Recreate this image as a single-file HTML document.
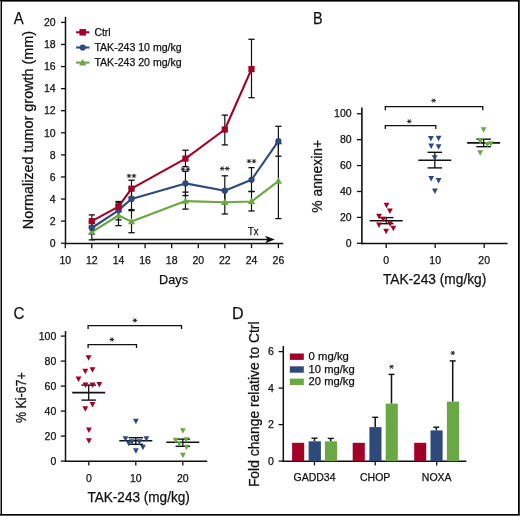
<!DOCTYPE html>
<html><head><meta charset="utf-8"><style>
html,body{margin:0;padding:0;background:#fff;}
body{width:520px;height:516px;overflow:hidden;}
svg{display:block;font-family:"Liberation Sans", sans-serif;will-change:transform;}
</style></head><body>
<svg width="520" height="516" viewBox="0 0 520 516">
<rect x="0" y="0" width="520" height="516" fill="#fff"/>
<rect x="0" y="0" width="1" height="516" fill="#888"/>
<rect x="1" y="0" width="1" height="516" fill="#000"/>
<rect x="0" y="0" width="520" height="1" fill="#000"/>
<rect x="2" y="1" width="516" height="1" fill="#666"/>
<rect x="518" y="0" width="1" height="516" fill="#000"/>
<rect x="519" y="0" width="1" height="516" fill="#3a3a3a"/>
<rect x="0" y="514" width="519" height="1" fill="#000"/>
<rect x="0" y="515" width="520" height="1" fill="#5a5a5a"/>
<text x="13.70" y="23.80" font-size="17" textLength="9.9" lengthAdjust="spacingAndGlyphs" fill="#111" stroke="#111" stroke-width="0.25">A</text>
<line x1="65.50" y1="16.80" x2="65.50" y2="244.20" stroke="#111" stroke-width="1.5" stroke-linecap="butt"/>
<line x1="64.80" y1="243.50" x2="283.20" y2="243.50" stroke="#111" stroke-width="1.5" stroke-linecap="butt"/>
<line x1="61.00" y1="243.20" x2="65.50" y2="243.20" stroke="#111" stroke-width="1.3" stroke-linecap="butt"/>
<text x="55.60" y="246.90" font-size="10.5" text-anchor="end" fill="#111" stroke="#111" stroke-width="0.25">0</text>
<line x1="61.00" y1="221.12" x2="65.50" y2="221.12" stroke="#111" stroke-width="1.3" stroke-linecap="butt"/>
<text x="55.60" y="224.82" font-size="10.5" text-anchor="end" fill="#111" stroke="#111" stroke-width="0.25">2</text>
<line x1="61.00" y1="199.04" x2="65.50" y2="199.04" stroke="#111" stroke-width="1.3" stroke-linecap="butt"/>
<text x="55.60" y="202.74" font-size="10.5" text-anchor="end" fill="#111" stroke="#111" stroke-width="0.25">4</text>
<line x1="61.00" y1="176.96" x2="65.50" y2="176.96" stroke="#111" stroke-width="1.3" stroke-linecap="butt"/>
<text x="55.60" y="180.66" font-size="10.5" text-anchor="end" fill="#111" stroke="#111" stroke-width="0.25">6</text>
<line x1="61.00" y1="154.88" x2="65.50" y2="154.88" stroke="#111" stroke-width="1.3" stroke-linecap="butt"/>
<text x="55.60" y="158.58" font-size="10.5" text-anchor="end" fill="#111" stroke="#111" stroke-width="0.25">8</text>
<line x1="61.00" y1="132.80" x2="65.50" y2="132.80" stroke="#111" stroke-width="1.3" stroke-linecap="butt"/>
<text x="55.60" y="136.50" font-size="10.5" text-anchor="end" fill="#111" stroke="#111" stroke-width="0.25">10</text>
<line x1="61.00" y1="110.72" x2="65.50" y2="110.72" stroke="#111" stroke-width="1.3" stroke-linecap="butt"/>
<text x="55.60" y="114.42" font-size="10.5" text-anchor="end" fill="#111" stroke="#111" stroke-width="0.25">12</text>
<line x1="61.00" y1="88.64" x2="65.50" y2="88.64" stroke="#111" stroke-width="1.3" stroke-linecap="butt"/>
<text x="55.60" y="92.34" font-size="10.5" text-anchor="end" fill="#111" stroke="#111" stroke-width="0.25">14</text>
<line x1="61.00" y1="66.56" x2="65.50" y2="66.56" stroke="#111" stroke-width="1.3" stroke-linecap="butt"/>
<text x="55.60" y="70.26" font-size="10.5" text-anchor="end" fill="#111" stroke="#111" stroke-width="0.25">16</text>
<line x1="61.00" y1="44.48" x2="65.50" y2="44.48" stroke="#111" stroke-width="1.3" stroke-linecap="butt"/>
<text x="55.60" y="48.18" font-size="10.5" text-anchor="end" fill="#111" stroke="#111" stroke-width="0.25">18</text>
<line x1="61.00" y1="22.40" x2="65.50" y2="22.40" stroke="#111" stroke-width="1.3" stroke-linecap="butt"/>
<text x="55.60" y="26.10" font-size="10.5" text-anchor="end" fill="#111" stroke="#111" stroke-width="0.25">20</text>
<line x1="65.30" y1="243.50" x2="65.30" y2="248.20" stroke="#111" stroke-width="1.3" stroke-linecap="butt"/>
<text x="65.30" y="263.60" font-size="10.5" text-anchor="middle" fill="#111" stroke="#111" stroke-width="0.25">10</text>
<line x1="91.80" y1="243.50" x2="91.80" y2="248.20" stroke="#111" stroke-width="1.3" stroke-linecap="butt"/>
<text x="91.80" y="263.60" font-size="10.5" text-anchor="middle" fill="#111" stroke="#111" stroke-width="0.25">12</text>
<line x1="118.50" y1="243.50" x2="118.50" y2="248.20" stroke="#111" stroke-width="1.3" stroke-linecap="butt"/>
<text x="118.50" y="263.60" font-size="10.5" text-anchor="middle" fill="#111" stroke="#111" stroke-width="0.25">14</text>
<line x1="145.10" y1="243.50" x2="145.10" y2="248.20" stroke="#111" stroke-width="1.3" stroke-linecap="butt"/>
<text x="145.10" y="263.60" font-size="10.5" text-anchor="middle" fill="#111" stroke="#111" stroke-width="0.25">16</text>
<line x1="171.70" y1="243.50" x2="171.70" y2="248.20" stroke="#111" stroke-width="1.3" stroke-linecap="butt"/>
<text x="171.70" y="263.60" font-size="10.5" text-anchor="middle" fill="#111" stroke="#111" stroke-width="0.25">18</text>
<line x1="198.30" y1="243.50" x2="198.30" y2="248.20" stroke="#111" stroke-width="1.3" stroke-linecap="butt"/>
<text x="198.30" y="263.60" font-size="10.5" text-anchor="middle" fill="#111" stroke="#111" stroke-width="0.25">20</text>
<line x1="224.80" y1="243.50" x2="224.80" y2="248.20" stroke="#111" stroke-width="1.3" stroke-linecap="butt"/>
<text x="224.80" y="263.60" font-size="10.5" text-anchor="middle" fill="#111" stroke="#111" stroke-width="0.25">22</text>
<line x1="251.50" y1="243.50" x2="251.50" y2="248.20" stroke="#111" stroke-width="1.3" stroke-linecap="butt"/>
<text x="251.50" y="263.60" font-size="10.5" text-anchor="middle" fill="#111" stroke="#111" stroke-width="0.25">24</text>
<line x1="278.40" y1="243.50" x2="278.40" y2="248.20" stroke="#111" stroke-width="1.3" stroke-linecap="butt"/>
<text x="278.40" y="263.60" font-size="10.5" text-anchor="middle" fill="#111" stroke="#111" stroke-width="0.25">26</text>
<text x="173.50" y="283.70" font-size="13.5" text-anchor="middle" textLength="29" lengthAdjust="spacingAndGlyphs" fill="#111" stroke="#111" stroke-width="0.25">Days</text>
<text x="33.00" y="130.05" font-size="14.3" text-anchor="middle" textLength="198.3" lengthAdjust="spacingAndGlyphs" transform="rotate(-90 33.00 130.05)" fill="#111" stroke="#111" stroke-width="0.25">Normalized tumor growth (mm)</text>
<line x1="92.00" y1="239.50" x2="268.00" y2="239.50" stroke="#111" stroke-width="1.3" stroke-linecap="butt"/>
<polygon points="274.8,239.5 265.2,235.8 267.4,239.5 265.2,243.2" fill="#111"/>
<text x="253.30" y="234.90" font-size="10.8" text-anchor="middle" textLength="10.5" lengthAdjust="spacingAndGlyphs" fill="#111" stroke="#111" stroke-width="0.25">Tx</text>
<line x1="91.80" y1="214.90" x2="91.80" y2="227.50" stroke="#111" stroke-width="1.2" stroke-linecap="butt"/>
<line x1="88.70" y1="214.90" x2="94.90" y2="214.90" stroke="#111" stroke-width="1.3" stroke-linecap="butt"/>
<line x1="88.70" y1="227.50" x2="94.90" y2="227.50" stroke="#111" stroke-width="1.3" stroke-linecap="butt"/>
<line x1="91.80" y1="222.00" x2="91.80" y2="234.00" stroke="#111" stroke-width="1.2" stroke-linecap="butt"/>
<line x1="88.70" y1="222.00" x2="94.90" y2="222.00" stroke="#111" stroke-width="1.3" stroke-linecap="butt"/>
<line x1="88.70" y1="234.00" x2="94.90" y2="234.00" stroke="#111" stroke-width="1.3" stroke-linecap="butt"/>
<line x1="91.80" y1="226.00" x2="91.80" y2="239.90" stroke="#111" stroke-width="1.2" stroke-linecap="butt"/>
<line x1="88.70" y1="226.00" x2="94.90" y2="226.00" stroke="#111" stroke-width="1.3" stroke-linecap="butt"/>
<line x1="88.70" y1="239.90" x2="94.90" y2="239.90" stroke="#111" stroke-width="1.3" stroke-linecap="butt"/>
<line x1="118.50" y1="201.50" x2="118.50" y2="211.70" stroke="#111" stroke-width="1.2" stroke-linecap="butt"/>
<line x1="115.40" y1="201.50" x2="121.60" y2="201.50" stroke="#111" stroke-width="1.3" stroke-linecap="butt"/>
<line x1="115.40" y1="211.70" x2="121.60" y2="211.70" stroke="#111" stroke-width="1.3" stroke-linecap="butt"/>
<line x1="118.50" y1="202.80" x2="118.50" y2="219.90" stroke="#111" stroke-width="1.2" stroke-linecap="butt"/>
<line x1="115.40" y1="202.80" x2="121.60" y2="202.80" stroke="#111" stroke-width="1.3" stroke-linecap="butt"/>
<line x1="115.40" y1="219.90" x2="121.60" y2="219.90" stroke="#111" stroke-width="1.3" stroke-linecap="butt"/>
<line x1="118.50" y1="205.40" x2="118.50" y2="225.60" stroke="#111" stroke-width="1.2" stroke-linecap="butt"/>
<line x1="115.40" y1="205.40" x2="121.60" y2="205.40" stroke="#111" stroke-width="1.3" stroke-linecap="butt"/>
<line x1="115.40" y1="225.60" x2="121.60" y2="225.60" stroke="#111" stroke-width="1.3" stroke-linecap="butt"/>
<line x1="131.50" y1="180.20" x2="131.50" y2="197.20" stroke="#111" stroke-width="1.2" stroke-linecap="butt"/>
<line x1="128.40" y1="180.20" x2="134.60" y2="180.20" stroke="#111" stroke-width="1.3" stroke-linecap="butt"/>
<line x1="128.40" y1="197.20" x2="134.60" y2="197.20" stroke="#111" stroke-width="1.3" stroke-linecap="butt"/>
<line x1="131.50" y1="188.20" x2="131.50" y2="209.60" stroke="#111" stroke-width="1.2" stroke-linecap="butt"/>
<line x1="128.40" y1="188.20" x2="134.60" y2="188.20" stroke="#111" stroke-width="1.3" stroke-linecap="butt"/>
<line x1="128.40" y1="209.60" x2="134.60" y2="209.60" stroke="#111" stroke-width="1.3" stroke-linecap="butt"/>
<line x1="131.50" y1="210.60" x2="131.50" y2="232.70" stroke="#111" stroke-width="1.2" stroke-linecap="butt"/>
<line x1="128.40" y1="210.60" x2="134.60" y2="210.60" stroke="#111" stroke-width="1.3" stroke-linecap="butt"/>
<line x1="128.40" y1="232.70" x2="134.60" y2="232.70" stroke="#111" stroke-width="1.3" stroke-linecap="butt"/>
<line x1="185.45" y1="150.20" x2="185.45" y2="166.60" stroke="#111" stroke-width="1.2" stroke-linecap="butt"/>
<line x1="182.35" y1="150.20" x2="188.55" y2="150.20" stroke="#111" stroke-width="1.3" stroke-linecap="butt"/>
<line x1="182.35" y1="166.60" x2="188.55" y2="166.60" stroke="#111" stroke-width="1.3" stroke-linecap="butt"/>
<line x1="185.45" y1="171.30" x2="185.45" y2="195.60" stroke="#111" stroke-width="1.2" stroke-linecap="butt"/>
<line x1="182.35" y1="171.30" x2="188.55" y2="171.30" stroke="#111" stroke-width="1.3" stroke-linecap="butt"/>
<line x1="182.35" y1="195.60" x2="188.55" y2="195.60" stroke="#111" stroke-width="1.3" stroke-linecap="butt"/>
<line x1="185.45" y1="192.10" x2="185.45" y2="209.10" stroke="#111" stroke-width="1.2" stroke-linecap="butt"/>
<line x1="182.35" y1="192.10" x2="188.55" y2="192.10" stroke="#111" stroke-width="1.3" stroke-linecap="butt"/>
<line x1="182.35" y1="209.10" x2="188.55" y2="209.10" stroke="#111" stroke-width="1.3" stroke-linecap="butt"/>
<line x1="224.80" y1="115.10" x2="224.80" y2="144.90" stroke="#111" stroke-width="1.2" stroke-linecap="butt"/>
<line x1="221.70" y1="115.10" x2="227.90" y2="115.10" stroke="#111" stroke-width="1.3" stroke-linecap="butt"/>
<line x1="221.70" y1="144.90" x2="227.90" y2="144.90" stroke="#111" stroke-width="1.3" stroke-linecap="butt"/>
<line x1="224.80" y1="175.80" x2="224.80" y2="204.20" stroke="#111" stroke-width="1.2" stroke-linecap="butt"/>
<line x1="221.70" y1="175.80" x2="227.90" y2="175.80" stroke="#111" stroke-width="1.3" stroke-linecap="butt"/>
<line x1="221.70" y1="204.20" x2="227.90" y2="204.20" stroke="#111" stroke-width="1.3" stroke-linecap="butt"/>
<line x1="224.80" y1="191.00" x2="224.80" y2="214.00" stroke="#111" stroke-width="1.2" stroke-linecap="butt"/>
<line x1="221.70" y1="191.00" x2="227.90" y2="191.00" stroke="#111" stroke-width="1.3" stroke-linecap="butt"/>
<line x1="221.70" y1="214.00" x2="227.90" y2="214.00" stroke="#111" stroke-width="1.3" stroke-linecap="butt"/>
<line x1="251.50" y1="39.30" x2="251.50" y2="97.70" stroke="#111" stroke-width="1.2" stroke-linecap="butt"/>
<line x1="248.40" y1="39.30" x2="254.60" y2="39.30" stroke="#111" stroke-width="1.3" stroke-linecap="butt"/>
<line x1="248.40" y1="97.70" x2="254.60" y2="97.70" stroke="#111" stroke-width="1.3" stroke-linecap="butt"/>
<line x1="251.50" y1="167.60" x2="251.50" y2="191.50" stroke="#111" stroke-width="1.2" stroke-linecap="butt"/>
<line x1="248.40" y1="167.60" x2="254.60" y2="167.60" stroke="#111" stroke-width="1.3" stroke-linecap="butt"/>
<line x1="248.40" y1="191.50" x2="254.60" y2="191.50" stroke="#111" stroke-width="1.3" stroke-linecap="butt"/>
<line x1="251.50" y1="191.50" x2="251.50" y2="211.00" stroke="#111" stroke-width="1.2" stroke-linecap="butt"/>
<line x1="248.40" y1="191.50" x2="254.60" y2="191.50" stroke="#111" stroke-width="1.3" stroke-linecap="butt"/>
<line x1="248.40" y1="211.00" x2="254.60" y2="211.00" stroke="#111" stroke-width="1.3" stroke-linecap="butt"/>
<line x1="278.40" y1="126.30" x2="278.40" y2="156.20" stroke="#111" stroke-width="1.2" stroke-linecap="butt"/>
<line x1="275.30" y1="126.30" x2="281.50" y2="126.30" stroke="#111" stroke-width="1.3" stroke-linecap="butt"/>
<line x1="275.30" y1="156.20" x2="281.50" y2="156.20" stroke="#111" stroke-width="1.3" stroke-linecap="butt"/>
<line x1="278.40" y1="143.60" x2="278.40" y2="218.60" stroke="#111" stroke-width="1.2" stroke-linecap="butt"/>
<line x1="275.30" y1="143.60" x2="281.50" y2="143.60" stroke="#111" stroke-width="1.3" stroke-linecap="butt"/>
<line x1="275.30" y1="218.60" x2="281.50" y2="218.60" stroke="#111" stroke-width="1.3" stroke-linecap="butt"/>
<polyline points="91.80,232.00 118.50,215.50 131.50,221.60 185.45,201.10 224.80,202.30 251.50,201.50 278.40,181.10" fill="none" stroke="#69a843" stroke-width="2.1" stroke-linejoin="round"/>
<polyline points="91.80,228.00 118.50,210.30 131.50,198.90 185.45,183.40 224.80,190.70 251.50,179.80 278.40,141.20" fill="none" stroke="#2e4a7b" stroke-width="2.1" stroke-linejoin="round"/>
<polyline points="91.80,221.20 118.50,206.60 131.50,188.70 185.45,158.60 224.80,129.50 251.50,69.10" fill="none" stroke="#a30028" stroke-width="2.1" stroke-linejoin="round"/>
<polygon points="91.80,228.11 95.40,234.59 88.20,234.59" fill="#69a843"/>
<polygon points="118.50,211.61 122.10,218.09 114.90,218.09" fill="#69a843"/>
<polygon points="131.50,217.71 135.10,224.19 127.90,224.19" fill="#69a843"/>
<polygon points="185.45,197.21 189.05,203.69 181.85,203.69" fill="#69a843"/>
<polygon points="224.80,198.41 228.40,204.89 221.20,204.89" fill="#69a843"/>
<polygon points="251.50,197.61 255.10,204.09 247.90,204.09" fill="#69a843"/>
<polygon points="278.40,177.21 282.00,183.69 274.80,183.69" fill="#69a843"/>
<circle cx="91.80" cy="228.00" r="3.1" fill="#2e4a7b"/>
<circle cx="118.50" cy="210.30" r="3.1" fill="#2e4a7b"/>
<circle cx="131.50" cy="198.90" r="3.1" fill="#2e4a7b"/>
<circle cx="185.45" cy="183.40" r="3.1" fill="#2e4a7b"/>
<circle cx="224.80" cy="190.70" r="3.1" fill="#2e4a7b"/>
<circle cx="251.50" cy="179.80" r="3.1" fill="#2e4a7b"/>
<circle cx="278.40" cy="141.20" r="3.1" fill="#2e4a7b"/>
<rect x="88.70" y="218.10" width="6.2" height="6.2" fill="#a30028"/>
<rect x="115.40" y="203.50" width="6.2" height="6.2" fill="#a30028"/>
<rect x="128.40" y="185.60" width="6.2" height="6.2" fill="#a30028"/>
<rect x="182.35" y="155.50" width="6.2" height="6.2" fill="#a30028"/>
<rect x="221.70" y="126.40" width="6.2" height="6.2" fill="#a30028"/>
<rect x="248.40" y="66.00" width="6.2" height="6.2" fill="#a30028"/>
<line x1="126.70" y1="175.90" x2="131.30" y2="175.90" stroke="#222" stroke-width="1.0" stroke-linecap="butt"/>
<line x1="127.85" y1="173.91" x2="130.15" y2="177.89" stroke="#222" stroke-width="1.0" stroke-linecap="butt"/>
<line x1="130.15" y1="173.91" x2="127.85" y2="177.89" stroke="#222" stroke-width="1.0" stroke-linecap="butt"/>
<line x1="131.70" y1="175.90" x2="136.30" y2="175.90" stroke="#222" stroke-width="1.0" stroke-linecap="butt"/>
<line x1="132.85" y1="173.91" x2="135.15" y2="177.89" stroke="#222" stroke-width="1.0" stroke-linecap="butt"/>
<line x1="135.15" y1="173.91" x2="132.85" y2="177.89" stroke="#222" stroke-width="1.0" stroke-linecap="butt"/>
<line x1="220.00" y1="168.60" x2="224.60" y2="168.60" stroke="#222" stroke-width="1.0" stroke-linecap="butt"/>
<line x1="221.15" y1="166.61" x2="223.45" y2="170.59" stroke="#222" stroke-width="1.0" stroke-linecap="butt"/>
<line x1="223.45" y1="166.61" x2="221.15" y2="170.59" stroke="#222" stroke-width="1.0" stroke-linecap="butt"/>
<line x1="225.00" y1="168.60" x2="229.60" y2="168.60" stroke="#222" stroke-width="1.0" stroke-linecap="butt"/>
<line x1="226.15" y1="166.61" x2="228.45" y2="170.59" stroke="#222" stroke-width="1.0" stroke-linecap="butt"/>
<line x1="228.45" y1="166.61" x2="226.15" y2="170.59" stroke="#222" stroke-width="1.0" stroke-linecap="butt"/>
<line x1="246.70" y1="161.20" x2="251.30" y2="161.20" stroke="#222" stroke-width="1.0" stroke-linecap="butt"/>
<line x1="247.85" y1="159.21" x2="250.15" y2="163.19" stroke="#222" stroke-width="1.0" stroke-linecap="butt"/>
<line x1="250.15" y1="159.21" x2="247.85" y2="163.19" stroke="#222" stroke-width="1.0" stroke-linecap="butt"/>
<line x1="251.70" y1="161.20" x2="256.30" y2="161.20" stroke="#222" stroke-width="1.0" stroke-linecap="butt"/>
<line x1="252.85" y1="159.21" x2="255.15" y2="163.19" stroke="#222" stroke-width="1.0" stroke-linecap="butt"/>
<line x1="255.15" y1="159.21" x2="252.85" y2="163.19" stroke="#222" stroke-width="1.0" stroke-linecap="butt"/>
<line x1="180.65" y1="169.20" x2="185.25" y2="169.20" stroke="#222" stroke-width="1.0" stroke-linecap="butt"/>
<line x1="181.80" y1="167.21" x2="184.10" y2="171.19" stroke="#222" stroke-width="1.0" stroke-linecap="butt"/>
<line x1="184.10" y1="167.21" x2="181.80" y2="171.19" stroke="#222" stroke-width="1.0" stroke-linecap="butt"/>
<line x1="185.65" y1="169.20" x2="190.25" y2="169.20" stroke="#222" stroke-width="1.0" stroke-linecap="butt"/>
<line x1="186.80" y1="167.21" x2="189.10" y2="171.19" stroke="#222" stroke-width="1.0" stroke-linecap="butt"/>
<line x1="189.10" y1="167.21" x2="186.80" y2="171.19" stroke="#222" stroke-width="1.0" stroke-linecap="butt"/>
<line x1="76.10" y1="32.30" x2="89.40" y2="32.30" stroke="#a30028" stroke-width="2.1" stroke-linecap="butt"/>
<rect x="79.45" y="29.05" width="6.5" height="6.5" fill="#a30028"/>
<text x="94.40" y="35.90" font-size="10.6" textLength="16.3" lengthAdjust="spacingAndGlyphs" fill="#111" stroke="#111" stroke-width="0.25">Ctrl</text>
<line x1="76.10" y1="47.50" x2="89.40" y2="47.50" stroke="#2e4a7b" stroke-width="2.1" stroke-linecap="butt"/>
<circle cx="82.70" cy="47.50" r="3.1" fill="#2e4a7b"/>
<text x="94.40" y="51.10" font-size="10.6" textLength="87.3" lengthAdjust="spacingAndGlyphs" fill="#111" stroke="#111" stroke-width="0.25">TAK-243 10 mg/kg</text>
<line x1="76.10" y1="62.60" x2="89.40" y2="62.60" stroke="#69a843" stroke-width="2.1" stroke-linecap="butt"/>
<polygon points="82.70,59.01 86.30,65.49 79.10,65.49" fill="#69a843"/>
<text x="94.40" y="66.20" font-size="10.6" textLength="87.3" lengthAdjust="spacingAndGlyphs" fill="#111" stroke="#111" stroke-width="0.25">TAK-243 20 mg/kg</text>
<text x="313.00" y="23.90" font-size="17.2" textLength="9.6" lengthAdjust="spacingAndGlyphs" fill="#111" stroke="#111" stroke-width="0.25">B</text>
<line x1="361.90" y1="107.60" x2="361.90" y2="244.20" stroke="#111" stroke-width="1.6" stroke-linecap="butt"/>
<line x1="361.20" y1="243.50" x2="507.60" y2="243.50" stroke="#111" stroke-width="1.5" stroke-linecap="butt"/>
<line x1="356.90" y1="243.30" x2="361.90" y2="243.30" stroke="#111" stroke-width="1.3" stroke-linecap="butt"/>
<text x="351.60" y="247.00" font-size="10.5" text-anchor="end" fill="#111" stroke="#111" stroke-width="0.25">0</text>
<line x1="356.90" y1="217.39" x2="361.90" y2="217.39" stroke="#111" stroke-width="1.3" stroke-linecap="butt"/>
<text x="351.60" y="221.09" font-size="10.5" text-anchor="end" fill="#111" stroke="#111" stroke-width="0.25">20</text>
<line x1="356.90" y1="191.48" x2="361.90" y2="191.48" stroke="#111" stroke-width="1.3" stroke-linecap="butt"/>
<text x="351.60" y="195.18" font-size="10.5" text-anchor="end" fill="#111" stroke="#111" stroke-width="0.25">40</text>
<line x1="356.90" y1="165.57" x2="361.90" y2="165.57" stroke="#111" stroke-width="1.3" stroke-linecap="butt"/>
<text x="351.60" y="169.27" font-size="10.5" text-anchor="end" fill="#111" stroke="#111" stroke-width="0.25">60</text>
<line x1="356.90" y1="139.66" x2="361.90" y2="139.66" stroke="#111" stroke-width="1.3" stroke-linecap="butt"/>
<text x="351.60" y="143.36" font-size="10.5" text-anchor="end" fill="#111" stroke="#111" stroke-width="0.25">80</text>
<line x1="356.90" y1="113.75" x2="361.90" y2="113.75" stroke="#111" stroke-width="1.3" stroke-linecap="butt"/>
<text x="351.60" y="117.45" font-size="10.5" text-anchor="end" fill="#111" stroke="#111" stroke-width="0.25">100</text>
<line x1="386.20" y1="243.50" x2="386.20" y2="248.00" stroke="#111" stroke-width="1.3" stroke-linecap="butt"/>
<text x="386.20" y="263.70" font-size="10.5" text-anchor="middle" fill="#111" stroke="#111" stroke-width="0.25">0</text>
<line x1="435.20" y1="243.50" x2="435.20" y2="248.00" stroke="#111" stroke-width="1.3" stroke-linecap="butt"/>
<text x="435.20" y="263.70" font-size="10.5" text-anchor="middle" fill="#111" stroke="#111" stroke-width="0.25">10</text>
<line x1="484.20" y1="243.50" x2="484.20" y2="248.00" stroke="#111" stroke-width="1.3" stroke-linecap="butt"/>
<text x="484.20" y="263.70" font-size="10.5" text-anchor="middle" fill="#111" stroke="#111" stroke-width="0.25">20</text>
<text x="434.60" y="283.60" font-size="13.8" text-anchor="middle" textLength="103.4" lengthAdjust="spacingAndGlyphs" fill="#111" stroke="#111" stroke-width="0.25">TAK-243 (mg/kg)</text>
<text x="321.70" y="176.30" font-size="13.8" text-anchor="middle" textLength="72.8" lengthAdjust="spacingAndGlyphs" transform="rotate(-90 321.70 176.30)" fill="#111" stroke="#111" stroke-width="0.25">% annexin+</text>
<polyline points="385.30,110.20 385.30,106.60 482.80,106.60 482.80,110.20" fill="none" stroke="#111" stroke-width="1.3"/>
<line x1="431.30" y1="100.60" x2="435.90" y2="100.60" stroke="#222" stroke-width="1.0" stroke-linecap="butt"/>
<line x1="432.45" y1="98.61" x2="434.75" y2="102.59" stroke="#222" stroke-width="1.0" stroke-linecap="butt"/>
<line x1="434.75" y1="98.61" x2="432.45" y2="102.59" stroke="#222" stroke-width="1.0" stroke-linecap="butt"/>
<polyline points="385.30,129.00 385.30,125.60 435.80,125.60 435.80,129.00" fill="none" stroke="#111" stroke-width="1.3"/>
<line x1="407.00" y1="121.40" x2="411.60" y2="121.40" stroke="#222" stroke-width="1.0" stroke-linecap="butt"/>
<line x1="408.15" y1="119.41" x2="410.45" y2="123.39" stroke="#222" stroke-width="1.0" stroke-linecap="butt"/>
<line x1="410.45" y1="119.41" x2="408.15" y2="123.39" stroke="#222" stroke-width="1.0" stroke-linecap="butt"/>
<line x1="369.70" y1="220.70" x2="402.70" y2="220.70" stroke="#111" stroke-width="1.6" stroke-linecap="butt"/>
<line x1="386.20" y1="217.60" x2="386.20" y2="223.70" stroke="#111" stroke-width="1.3" stroke-linecap="butt"/>
<line x1="378.95" y1="217.60" x2="393.45" y2="217.60" stroke="#111" stroke-width="1.4" stroke-linecap="butt"/>
<line x1="378.95" y1="223.70" x2="393.45" y2="223.70" stroke="#111" stroke-width="1.4" stroke-linecap="butt"/>
<polygon points="383.60,202.65 389.40,202.65 386.50,208.16" fill="#a30028"/>
<polygon points="387.00,208.44 392.80,208.44 389.90,213.95" fill="#a30028"/>
<polygon points="376.10,213.65 381.90,213.65 379.00,219.16" fill="#a30028"/>
<polygon points="380.20,216.84 386.00,216.84 383.10,222.35" fill="#a30028"/>
<polygon points="376.10,222.44 381.90,222.44 379.00,227.95" fill="#a30028"/>
<polygon points="387.20,221.34 393.00,221.34 390.10,226.85" fill="#a30028"/>
<polygon points="390.40,225.84 396.20,225.84 393.30,231.35" fill="#a30028"/>
<polygon points="383.20,228.84 389.00,228.84 386.10,234.35" fill="#a30028"/>
<line x1="418.30" y1="160.20" x2="451.30" y2="160.20" stroke="#111" stroke-width="1.6" stroke-linecap="butt"/>
<line x1="434.80" y1="152.30" x2="434.80" y2="167.90" stroke="#111" stroke-width="1.3" stroke-linecap="butt"/>
<line x1="427.55" y1="152.30" x2="442.05" y2="152.30" stroke="#111" stroke-width="1.4" stroke-linecap="butt"/>
<line x1="427.55" y1="167.90" x2="442.05" y2="167.90" stroke="#111" stroke-width="1.4" stroke-linecap="butt"/>
<polygon points="428.00,136.05 433.80,136.05 430.90,141.56" fill="#2e4a7b"/>
<polygon points="435.70,135.84 441.50,135.84 438.60,141.35" fill="#2e4a7b"/>
<polygon points="428.30,143.55 434.10,143.55 431.20,149.06" fill="#2e4a7b"/>
<polygon points="435.70,144.25 441.50,144.25 438.60,149.75" fill="#2e4a7b"/>
<polygon points="431.80,155.15 437.60,155.15 434.70,160.66" fill="#2e4a7b"/>
<polygon points="428.30,176.05 434.10,176.05 431.20,181.56" fill="#2e4a7b"/>
<polygon points="435.70,177.94 441.50,177.94 438.60,183.45" fill="#2e4a7b"/>
<polygon points="432.00,188.44 437.80,188.44 434.90,193.95" fill="#2e4a7b"/>
<line x1="467.10" y1="142.90" x2="500.10" y2="142.90" stroke="#111" stroke-width="1.6" stroke-linecap="butt"/>
<line x1="483.60" y1="139.20" x2="483.60" y2="146.70" stroke="#111" stroke-width="1.3" stroke-linecap="butt"/>
<line x1="476.35" y1="139.20" x2="490.85" y2="139.20" stroke="#111" stroke-width="1.4" stroke-linecap="butt"/>
<line x1="476.35" y1="146.70" x2="490.85" y2="146.70" stroke="#111" stroke-width="1.4" stroke-linecap="butt"/>
<polygon points="480.70,127.25 486.50,127.25 483.60,132.75" fill="#69a843"/>
<polygon points="477.30,138.84 483.10,138.84 480.20,144.35" fill="#69a843"/>
<polygon points="484.50,141.94 490.30,141.94 487.40,147.45" fill="#69a843"/>
<polygon points="487.90,141.25 493.70,141.25 490.80,146.75" fill="#69a843"/>
<polygon points="477.30,150.25 483.10,150.25 480.20,155.75" fill="#69a843"/>
<text x="13.50" y="319.00" font-size="17.2" textLength="10.9" lengthAdjust="spacingAndGlyphs" fill="#111" stroke="#111" stroke-width="0.25">C</text>
<line x1="65.50" y1="331.00" x2="65.50" y2="461.90" stroke="#111" stroke-width="1.5" stroke-linecap="butt"/>
<line x1="64.80" y1="461.20" x2="207.20" y2="461.20" stroke="#111" stroke-width="1.5" stroke-linecap="butt"/>
<line x1="60.80" y1="461.10" x2="65.50" y2="461.10" stroke="#111" stroke-width="1.3" stroke-linecap="butt"/>
<text x="56.30" y="464.80" font-size="10.5" text-anchor="end" fill="#111" stroke="#111" stroke-width="0.25">0</text>
<line x1="60.80" y1="436.10" x2="65.50" y2="436.10" stroke="#111" stroke-width="1.3" stroke-linecap="butt"/>
<text x="56.30" y="439.80" font-size="10.5" text-anchor="end" fill="#111" stroke="#111" stroke-width="0.25">20</text>
<line x1="60.80" y1="411.10" x2="65.50" y2="411.10" stroke="#111" stroke-width="1.3" stroke-linecap="butt"/>
<text x="56.30" y="414.80" font-size="10.5" text-anchor="end" fill="#111" stroke="#111" stroke-width="0.25">40</text>
<line x1="60.80" y1="386.10" x2="65.50" y2="386.10" stroke="#111" stroke-width="1.3" stroke-linecap="butt"/>
<text x="56.30" y="389.80" font-size="10.5" text-anchor="end" fill="#111" stroke="#111" stroke-width="0.25">60</text>
<line x1="60.80" y1="361.10" x2="65.50" y2="361.10" stroke="#111" stroke-width="1.3" stroke-linecap="butt"/>
<text x="56.30" y="364.80" font-size="10.5" text-anchor="end" fill="#111" stroke="#111" stroke-width="0.25">80</text>
<line x1="60.80" y1="336.10" x2="65.50" y2="336.10" stroke="#111" stroke-width="1.3" stroke-linecap="butt"/>
<text x="56.30" y="339.80" font-size="10.5" text-anchor="end" fill="#111" stroke="#111" stroke-width="0.25">100</text>
<line x1="88.80" y1="461.20" x2="88.80" y2="465.60" stroke="#111" stroke-width="1.3" stroke-linecap="butt"/>
<text x="88.80" y="481.60" font-size="10.5" text-anchor="middle" fill="#111" stroke="#111" stroke-width="0.25">0</text>
<line x1="135.80" y1="461.20" x2="135.80" y2="465.60" stroke="#111" stroke-width="1.3" stroke-linecap="butt"/>
<text x="135.80" y="481.60" font-size="10.5" text-anchor="middle" fill="#111" stroke="#111" stroke-width="0.25">10</text>
<line x1="182.80" y1="461.20" x2="182.80" y2="465.60" stroke="#111" stroke-width="1.3" stroke-linecap="butt"/>
<text x="182.80" y="481.60" font-size="10.5" text-anchor="middle" fill="#111" stroke="#111" stroke-width="0.25">20</text>
<text x="138.60" y="501.70" font-size="13.8" text-anchor="middle" textLength="102.4" lengthAdjust="spacingAndGlyphs" fill="#111" stroke="#111" stroke-width="0.25">TAK-243 (mg/kg)</text>
<text x="25.80" y="397.60" font-size="13.8" text-anchor="middle" textLength="50.8" lengthAdjust="spacingAndGlyphs" transform="rotate(-90 25.80 397.60)" fill="#111" stroke="#111" stroke-width="0.25">% Ki-67+</text>
<polyline points="88.10,329.00 88.10,325.70 181.50,325.70 181.50,329.00" fill="none" stroke="#111" stroke-width="1.3"/>
<line x1="132.60" y1="320.40" x2="137.20" y2="320.40" stroke="#222" stroke-width="1.0" stroke-linecap="butt"/>
<line x1="133.75" y1="318.41" x2="136.05" y2="322.39" stroke="#222" stroke-width="1.0" stroke-linecap="butt"/>
<line x1="136.05" y1="318.41" x2="133.75" y2="322.39" stroke="#222" stroke-width="1.0" stroke-linecap="butt"/>
<polyline points="88.10,348.00 88.10,344.60 136.50,344.60 136.50,348.00" fill="none" stroke="#111" stroke-width="1.3"/>
<line x1="109.50" y1="339.50" x2="114.10" y2="339.50" stroke="#222" stroke-width="1.0" stroke-linecap="butt"/>
<line x1="110.65" y1="337.51" x2="112.95" y2="341.49" stroke="#222" stroke-width="1.0" stroke-linecap="butt"/>
<line x1="112.95" y1="337.51" x2="110.65" y2="341.49" stroke="#222" stroke-width="1.0" stroke-linecap="butt"/>
<line x1="72.20" y1="392.60" x2="105.20" y2="392.60" stroke="#111" stroke-width="1.6" stroke-linecap="butt"/>
<line x1="88.70" y1="385.10" x2="88.70" y2="400.10" stroke="#111" stroke-width="1.3" stroke-linecap="butt"/>
<line x1="81.45" y1="385.10" x2="95.95" y2="385.10" stroke="#111" stroke-width="1.4" stroke-linecap="butt"/>
<line x1="81.45" y1="400.10" x2="95.95" y2="400.10" stroke="#111" stroke-width="1.4" stroke-linecap="butt"/>
<polygon points="85.70,355.14 91.50,355.14 88.60,360.65" fill="#a30028"/>
<polygon points="82.40,368.75 88.20,368.75 85.30,374.25" fill="#a30028"/>
<polygon points="89.60,367.14 95.40,367.14 92.50,372.65" fill="#a30028"/>
<polygon points="75.60,376.44 81.40,376.44 78.50,381.95" fill="#a30028"/>
<polygon points="82.60,382.44 88.40,382.44 85.50,387.95" fill="#a30028"/>
<polygon points="89.60,382.44 95.40,382.44 92.50,387.95" fill="#a30028"/>
<polygon points="96.40,381.94 102.20,381.94 99.30,387.45" fill="#a30028"/>
<polygon points="89.60,402.05 95.40,402.05 92.50,407.56" fill="#a30028"/>
<polygon points="82.40,406.35 88.20,406.35 85.30,411.86" fill="#a30028"/>
<polygon points="86.00,427.55 91.80,427.55 88.90,433.06" fill="#a30028"/>
<polygon points="86.00,438.25 91.80,438.25 88.90,443.75" fill="#a30028"/>
<line x1="119.30" y1="440.80" x2="152.30" y2="440.80" stroke="#111" stroke-width="1.6" stroke-linecap="butt"/>
<line x1="135.80" y1="437.70" x2="135.80" y2="444.30" stroke="#111" stroke-width="1.3" stroke-linecap="butt"/>
<line x1="128.55" y1="437.70" x2="143.05" y2="437.70" stroke="#111" stroke-width="1.4" stroke-linecap="butt"/>
<line x1="128.55" y1="444.30" x2="143.05" y2="444.30" stroke="#111" stroke-width="1.4" stroke-linecap="butt"/>
<polygon points="133.00,418.64 138.80,418.64 135.90,424.15" fill="#2e4a7b"/>
<polygon points="122.60,436.25 128.40,436.25 125.50,441.75" fill="#2e4a7b"/>
<polygon points="143.50,436.25 149.30,436.25 146.40,441.75" fill="#2e4a7b"/>
<polygon points="125.80,440.64 131.60,440.64 128.70,446.15" fill="#2e4a7b"/>
<polygon points="129.00,439.25 134.80,439.25 131.90,444.75" fill="#2e4a7b"/>
<polygon points="136.50,439.25 142.30,439.25 139.40,444.75" fill="#2e4a7b"/>
<polygon points="140.00,444.75 145.80,444.75 142.90,450.25" fill="#2e4a7b"/>
<polygon points="133.00,448.25 138.80,448.25 135.90,453.75" fill="#2e4a7b"/>
<line x1="166.30" y1="442.30" x2="199.30" y2="442.30" stroke="#111" stroke-width="1.6" stroke-linecap="butt"/>
<line x1="182.80" y1="439.10" x2="182.80" y2="446.30" stroke="#111" stroke-width="1.3" stroke-linecap="butt"/>
<line x1="175.55" y1="439.10" x2="190.05" y2="439.10" stroke="#111" stroke-width="1.4" stroke-linecap="butt"/>
<line x1="175.55" y1="446.30" x2="190.05" y2="446.30" stroke="#111" stroke-width="1.4" stroke-linecap="butt"/>
<polygon points="180.00,428.25 185.80,428.25 182.90,433.75" fill="#69a843"/>
<polygon points="172.80,437.75 178.60,437.75 175.70,443.25" fill="#69a843"/>
<polygon points="183.30,437.25 189.10,437.25 186.20,442.75" fill="#69a843"/>
<polygon points="176.30,441.25 182.10,441.25 179.20,446.75" fill="#69a843"/>
<polygon points="183.60,444.75 189.40,444.75 186.50,450.25" fill="#69a843"/>
<polygon points="180.00,452.85 185.80,452.85 182.90,458.36" fill="#69a843"/>
<text x="232.00" y="318.60" font-size="17" textLength="11.6" lengthAdjust="spacingAndGlyphs" fill="#111" stroke="#111" stroke-width="0.25">D</text>
<line x1="283.30" y1="346.00" x2="283.30" y2="461.90" stroke="#111" stroke-width="1.5" stroke-linecap="butt"/>
<line x1="282.60" y1="461.20" x2="466.40" y2="461.20" stroke="#111" stroke-width="1.5" stroke-linecap="butt"/>
<line x1="278.60" y1="461.10" x2="283.30" y2="461.10" stroke="#111" stroke-width="1.3" stroke-linecap="butt"/>
<text x="274.00" y="464.60" font-size="10.6" text-anchor="end" fill="#111" stroke="#111" stroke-width="0.25">0</text>
<line x1="278.60" y1="424.60" x2="283.30" y2="424.60" stroke="#111" stroke-width="1.3" stroke-linecap="butt"/>
<text x="274.00" y="428.10" font-size="10.6" text-anchor="end" fill="#111" stroke="#111" stroke-width="0.25">2</text>
<line x1="278.60" y1="388.10" x2="283.30" y2="388.10" stroke="#111" stroke-width="1.3" stroke-linecap="butt"/>
<text x="274.00" y="391.60" font-size="10.6" text-anchor="end" fill="#111" stroke="#111" stroke-width="0.25">4</text>
<line x1="278.60" y1="351.60" x2="283.30" y2="351.60" stroke="#111" stroke-width="1.3" stroke-linecap="butt"/>
<text x="274.00" y="355.10" font-size="10.6" text-anchor="end" fill="#111" stroke="#111" stroke-width="0.25">6</text>
<text x="258.80" y="404.30" font-size="13.8" text-anchor="middle" textLength="165.6" lengthAdjust="spacingAndGlyphs" transform="rotate(-90 258.80 404.30)" fill="#111" stroke="#111" stroke-width="0.25">Fold change relative to Ctrl</text>
<rect x="292.10" y="442.80" width="12.10" height="18.40" fill="#a30028"/>
<line x1="314.50" y1="438.20" x2="314.50" y2="441.30" stroke="#111" stroke-width="1.5" stroke-linecap="butt"/>
<line x1="311.50" y1="438.20" x2="317.50" y2="438.20" stroke="#111" stroke-width="1.4" stroke-linecap="butt"/>
<rect x="308.60" y="441.30" width="12.30" height="19.90" fill="#2e4a7b"/>
<line x1="330.70" y1="438.40" x2="330.70" y2="441.30" stroke="#111" stroke-width="1.5" stroke-linecap="butt"/>
<line x1="327.70" y1="438.40" x2="333.70" y2="438.40" stroke="#111" stroke-width="1.4" stroke-linecap="butt"/>
<rect x="324.90" y="441.30" width="12.10" height="19.90" fill="#69a843"/>
<line x1="314.50" y1="461.20" x2="314.50" y2="465.50" stroke="#111" stroke-width="1.3" stroke-linecap="butt"/>
<text x="314.50" y="480.80" font-size="10.5" text-anchor="middle" fill="#111" stroke="#111" stroke-width="0.25">GADD34</text>
<rect x="352.70" y="442.80" width="12.10" height="18.40" fill="#a30028"/>
<line x1="375.20" y1="417.30" x2="375.20" y2="427.10" stroke="#111" stroke-width="1.5" stroke-linecap="butt"/>
<line x1="372.20" y1="417.30" x2="378.20" y2="417.30" stroke="#111" stroke-width="1.4" stroke-linecap="butt"/>
<rect x="369.40" y="427.10" width="12.10" height="34.10" fill="#2e4a7b"/>
<line x1="391.50" y1="374.40" x2="391.50" y2="403.60" stroke="#111" stroke-width="1.5" stroke-linecap="butt"/>
<line x1="388.50" y1="374.40" x2="394.50" y2="374.40" stroke="#111" stroke-width="1.4" stroke-linecap="butt"/>
<rect x="385.70" y="403.60" width="12.10" height="57.60" fill="#69a843"/>
<line x1="375.20" y1="461.20" x2="375.20" y2="465.50" stroke="#111" stroke-width="1.3" stroke-linecap="butt"/>
<text x="375.20" y="480.80" font-size="10.5" text-anchor="middle" fill="#111" stroke="#111" stroke-width="0.25">CHOP</text>
<rect x="414.20" y="442.80" width="12.00" height="18.40" fill="#a30028"/>
<line x1="436.30" y1="427.20" x2="436.30" y2="430.40" stroke="#111" stroke-width="1.5" stroke-linecap="butt"/>
<line x1="433.30" y1="427.20" x2="439.30" y2="427.20" stroke="#111" stroke-width="1.4" stroke-linecap="butt"/>
<rect x="430.50" y="430.40" width="12.10" height="30.80" fill="#2e4a7b"/>
<line x1="452.70" y1="360.90" x2="452.70" y2="401.60" stroke="#111" stroke-width="1.5" stroke-linecap="butt"/>
<line x1="449.70" y1="360.90" x2="455.70" y2="360.90" stroke="#111" stroke-width="1.4" stroke-linecap="butt"/>
<rect x="446.90" y="401.60" width="12.10" height="59.60" fill="#69a843"/>
<line x1="436.70" y1="461.20" x2="436.70" y2="465.50" stroke="#111" stroke-width="1.3" stroke-linecap="butt"/>
<text x="436.70" y="480.80" font-size="10.5" text-anchor="middle" fill="#111" stroke="#111" stroke-width="0.25">NOXA</text>
<line x1="389.20" y1="366.70" x2="393.80" y2="366.70" stroke="#222" stroke-width="1.0" stroke-linecap="butt"/>
<line x1="390.35" y1="364.71" x2="392.65" y2="368.69" stroke="#222" stroke-width="1.0" stroke-linecap="butt"/>
<line x1="392.65" y1="364.71" x2="390.35" y2="368.69" stroke="#222" stroke-width="1.0" stroke-linecap="butt"/>
<line x1="450.50" y1="353.00" x2="455.10" y2="353.00" stroke="#222" stroke-width="1.0" stroke-linecap="butt"/>
<line x1="451.65" y1="351.01" x2="453.95" y2="354.99" stroke="#222" stroke-width="1.0" stroke-linecap="butt"/>
<line x1="453.95" y1="351.01" x2="451.65" y2="354.99" stroke="#222" stroke-width="1.0" stroke-linecap="butt"/>
<rect x="289.80" y="353.50" width="14.00" height="6.40" fill="#a30028"/>
<text x="308.60" y="360.30" font-size="11" textLength="40.3" lengthAdjust="spacingAndGlyphs" fill="#111" stroke="#111" stroke-width="0.25">0 mg/kg</text>
<rect x="289.80" y="366.30" width="14.00" height="6.40" fill="#2e4a7b"/>
<text x="308.60" y="373.10" font-size="11" textLength="46.1" lengthAdjust="spacingAndGlyphs" fill="#111" stroke="#111" stroke-width="0.25">10 mg/kg</text>
<rect x="289.80" y="378.60" width="14.00" height="6.40" fill="#69a843"/>
<text x="308.60" y="385.40" font-size="11" textLength="46.1" lengthAdjust="spacingAndGlyphs" fill="#111" stroke="#111" stroke-width="0.25">20 mg/kg</text>
</svg>
</body></html>
